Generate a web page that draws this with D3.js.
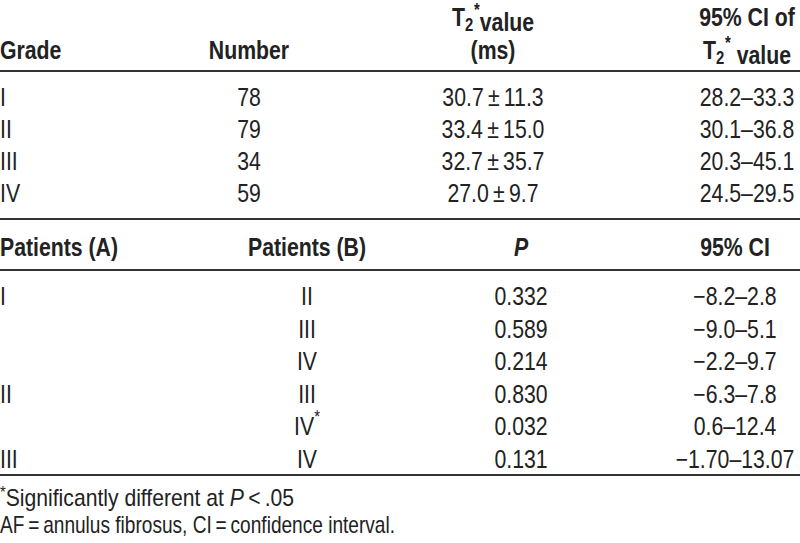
<!DOCTYPE html>
<html>
<head>
<meta charset="utf-8">
<script src="https://cdn.jsdelivr.net/npm/d3@7"></script>
<style>
  body { margin: 0; background: #fff; }
  svg text { font-family: "Liberation Sans", Arial, sans-serif; fill: #222; }
</style>
</head>
<body>
<div id="chart"></div>
<script>
// upper table: T2* by grade
const grades = ['I', 'II', 'III', 'IV'];
const numbers = [78, 79, 34, 59];
const means = ['30.7', '33.4', '32.7', '27.0'];
const sds = ['11.3', '15.0', '35.7', '9.7'];
const ciLow = ['28.2', '30.1', '20.3', '24.5'];
const ciHigh = ['33.3', '36.8', '45.1', '29.5'];

// lower table: pairwise comparisons
const patientsA = ['I', '', '', 'II', '', 'III'];
const patientsB = ['II', 'III', 'IV', 'III', 'IV', 'IV'];
const significant = [false, false, false, false, true, false];
const pValues = ['0.332', '0.589', '0.214', '0.830', '0.032', '0.131'];
const pairCI = ['\u22128.2\u20132.8', '\u22129.0\u20135.1', '\u22122.2\u20139.7', '\u22126.3\u20137.8', '0.6\u201312.4', '\u22121.70\u201313.07'];

const width = 800, height = 543;
const fs = 25;
const squeeze = 0.85; // no condensed face installed, so narrow the glyphs

const svg = d3.select('#chart').append('svg')
  .attr('width', width)
  .attr('height', height);

// column centres
const col = { grade: 0, number: 249, t2: 493, ci: 747 };
const col2 = { a: 0, b: 307, p: 521, ci: 735 };

const yTop = d3.scalePoint().domain(d3.range(grades.length)).range([97, 193]);
const yBottom = d3.scalePoint().domain(d3.range(pValues.length)).range([296, 459]);

function rule(y) {
  svg.append('line')
    .attr('x1', 0).attr('x2', width)
    .attr('y1', y).attr('y2', y)
    .attr('stroke', '#333')
    .attr('stroke-width', 2);
}

function label(x, y, anchor, bold) {
  return svg.append('text')
    .attr('transform', `translate(${x},${y}) scale(${squeeze},1)`)
    .attr('dy', '0.36em')
    .attr('text-anchor', anchor)
    .attr('font-size', fs)
    .attr('font-weight', bold ? 'bold' : 'normal');
}

// T2* with subscript and superscript
function t2star(t, after) {
  t.append('tspan').text('T');
  t.append('tspan').attr('font-size', fs * 0.7).attr('dy', '0.3em').text('2');
  t.append('tspan').attr('font-size', fs * 0.7).attr('dy', '-0.9em').attr('dx', '1').text('*');
  t.append('tspan').attr('dy', '0.6em').text(after);
}

// headers
label(col.grade, 50, 'start', true).text('Grade');
label(col.number, 50, 'middle', true).text('Number');
t2star(label(col.t2, 17, 'middle', true), 'value');
label(col.t2, 50, 'middle', true).text('(ms)');
label(col.ci, 17, 'middle', true).text('95% CI of');
t2star(label(col.ci, 50, 'middle', true), '  value');

rule(71);

grades.forEach((g, i) => {
  label(col.grade, yTop(i), 'start').text(g);
  label(col.number, yTop(i), 'middle').text(numbers[i]);
  label(col.t2, yTop(i), 'middle').text(means[i] + '\u2009\u00b1\u2009' + sds[i]);
  label(col.ci, yTop(i), 'middle').text(ciLow[i] + '\u2013' + ciHigh[i]);
});

rule(219);

label(col2.a, 247, 'start', true).text('Patients  (A)');
label(col2.b, 247, 'middle', true).text('Patients  (B)');
label(col2.p, 247, 'middle', true).attr('font-style', 'italic').text('P');
label(col2.ci, 247, 'middle', true).text('95% CI');

rule(270);

pValues.forEach((p, i) => {
  label(col2.a, yBottom(i), 'start').text(patientsA[i]);
  const b = label(col2.b, yBottom(i), 'middle');
  b.append('tspan').text(patientsB[i]);
  if (significant[i]) {
    b.append('tspan').attr('font-size', fs * 0.7).attr('dy', '-0.7em').text('*');
  }
  label(col2.p, yBottom(i), 'middle').text(p);
  label(col2.ci, yBottom(i), 'middle').text(pairCI[i]);
});

rule(475);

// footnotes: slightly smaller so the two lines don't collide
function note(y, sx) {
  return svg.append('text')
    .attr('transform', `translate(0,${y}) scale(${sx},1)`)
    .attr('font-size', 23);
}

const f1 = note(506, 0.92);
f1.append('tspan').attr('font-size', 16).attr('dy', -8).text('*');
f1.append('tspan').attr('dy', 8).text('Significantly different at ');
f1.append('tspan').attr('font-style', 'italic').text('P');
f1.append('tspan').text('\u2009<\u2009.05');

note(533, 0.83).text('AF\u2009=\u2009annulus fibrosus, CI\u2009=\u2009confidence interval.');
</script>
</body>
</html>
